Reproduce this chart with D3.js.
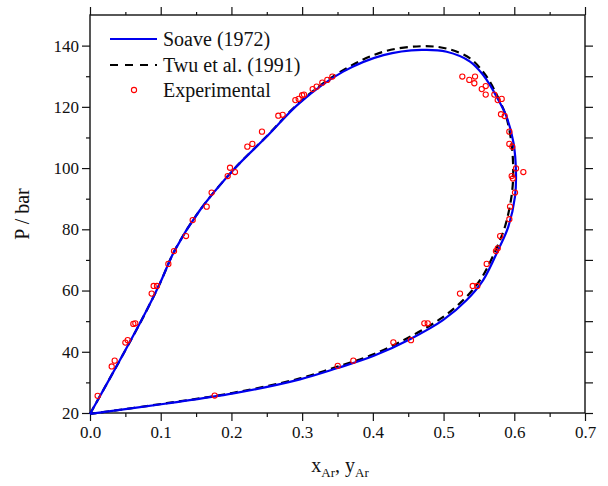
<!DOCTYPE html>
<html>
<head>
<meta charset="utf-8">
<script src="https://cdn.jsdelivr.net/npm/d3@7"></script>
<style>
  body { margin: 0; background: #fff; overflow: hidden; }
  svg { display: block; }
</style>
</head>
<body>
<div id="chart"></div>
<script>
const serif = '"Liberation Serif", "Times New Roman", Times, "DejaVu Serif", serif';

// Soave (1972) envelope: left branch up, over the top, down the right side, back along the bottom
const soaveX = [0, 0.0424, 0.0754, 0.099, 0.12, 0.1556, 0.2027, 0.2499, 0.297, 0.358, 0.415, 0.469, 0.5044, 0.5374, 0.556, 0.5657, 0.575, 0.589, 0.599, 0.6024, 0.601, 0.5916, 0.5775, 0.556, 0.5327, 0.4996, 0.4525, 0.4006, 0.349, 0.297, 0.2027, 0.1084, 0];
const soaveP = [19.7, 37.3, 51.4, 62.4, 73.2, 86.3, 99.4, 110.3, 121.4, 131.5, 136.9, 138.6, 138.0, 134.8, 130.4, 127.1, 123.3, 116.8, 108.1, 98.3, 90.7, 80.9, 73.4, 63.4, 56.9, 50.4, 44.1, 38.6, 34.6, 31.0, 26.4, 23.1, 19.7];

// Twu et al. (1991)
const twuX = [0, 0.0424, 0.0754, 0.099, 0.12, 0.1556, 0.2027, 0.2499, 0.297, 0.358, 0.415, 0.469, 0.505, 0.537, 0.556, 0.566, 0.575, 0.588, 0.596, 0.5985, 0.596, 0.587, 0.5745, 0.553, 0.530, 0.497, 0.450, 0.399, 0.348, 0.297, 0.2027, 0.1084, 0];
const twuP = [19.7, 37.3, 51.4, 62.4, 73.2, 86.3, 99.4, 110.4, 121.6, 132.0, 138.0, 139.8, 139.0, 135.9, 131.4, 128.0, 124.0, 117.2, 108.2, 98.3, 90.7, 81.0, 73.6, 63.9, 57.4, 51.0, 44.6, 39.0, 35.0, 31.3, 26.6, 23.2, 19.7];

// Experimental points
const expX = [0.0108, 0.0307, 0.0349, 0.050, 0.0533, 0.0613, 0.0641, 0.0872, 0.090, 0.0947, 0.1108, 0.1188, 0.1763,
  0.1358, 0.1452, 0.165, 0.172, 0.1947, 0.198, 0.205, 0.2225, 0.2296, 0.2432, 0.2663, 0.2725, 0.2904, 0.2951,
  0.3026, 0.300, 0.3149, 0.3205, 0.3285, 0.3356, 0.3427,
  0.5265, 0.5364, 0.5435, 0.5445, 0.554, 0.5596, 0.5596, 0.5718, 0.5766, 0.5822, 0.5812, 0.5864, 0.593, 0.593,
  0.5972, 0.6024, 0.6128, 0.5963, 0.598, 0.601, 0.594, 0.593, 0.580, 0.5766,
  0.3503, 0.3724, 0.429, 0.4539, 0.4728, 0.4776, 0.5232, 0.5412, 0.5477, 0.561, 0.5741];
const expP = [25.6, 35.2, 37.1, 43.0, 43.8, 49.1, 49.3, 59.0, 61.5, 61.5, 68.7, 72.9, 25.7,
  77.8, 83.0, 87.4, 92.0, 97.4, 100.1, 98.7, 107.0, 107.9, 111.9, 117.1, 117.4, 122.2, 122.6,
  124.0, 123.8, 125.8, 126.6, 127.9, 128.8, 129.9,
  129.9, 128.8, 127.7, 129.9, 125.8, 126.8, 124.0, 124.0, 122.2, 122.6, 117.6, 117.0, 111.9, 107.9,
  107.0, 99.9, 98.7, 97.4, 96.6, 92.0, 87.4, 83.3, 77.8, 73.8,
  35.4, 37.1, 43.1, 43.8, 49.3, 49.3, 59.0, 61.5, 61.5, 68.7, 72.9];

const xTicks = [0, 0.1, 0.2, 0.3, 0.4, 0.5, 0.6, 0.7];
const yTicks = [20, 40, 60, 80, 100, 120, 140];
const legendLabels = ['Soave (1972)', 'Twu et al. (1991)', 'Experimental'];

const width = 608;
const height = 486;
const margin = { top: 15, right: 23, bottom: 73, left: 90 };
const innerWidth = width - margin.left - margin.right;
const innerHeight = height - margin.top - margin.bottom;

const svg = d3.select('#chart').append('svg')
  .attr('width', width).attr('height', height)
  .style('font-family', serif);
const chart = svg.append('g').attr('transform', `translate(${margin.left},${margin.top})`);

const x = d3.scaleLinear().domain([0, 0.7]).range([0, innerWidth]);
const y = d3.scaleLinear().domain([20, 150]).range([innerHeight, 0]);

const xMinor = d3.range(0.05, 0.7, 0.1);
const yMinor = d3.range(30, 150, 20);

function styleAxis(g) {
  g.attr('font-family', null);
  g.select('.domain').remove();
  g.selectAll('line').attr('stroke', '#111').attr('stroke-width', 1.2);
  g.selectAll('text')
    .style('font-family', serif)
    .style('font-size', '17px')
    .attr('fill', '#111');
}

function bareTicks(g) {
  g.select('.domain').remove();
  g.selectAll('text').remove();
  g.selectAll('line').attr('stroke', '#111').attr('stroke-width', 1.2);
}

// bottom
chart.append('g').attr('transform', `translate(0,${innerHeight})`)
  .call(d3.axisBottom(x).tickValues(xTicks).tickFormat(d3.format('.1f')).tickSize(8).tickPadding(5))
  .call(styleAxis);
chart.append('g').attr('transform', `translate(0,${innerHeight})`)
  .call(d3.axisBottom(x).tickValues(xMinor).tickSize(4))
  .call(bareTicks);
// top
chart.append('g')
  .call(d3.axisTop(x).tickValues(xTicks).tickSize(8))
  .call(bareTicks);
chart.append('g')
  .call(d3.axisTop(x).tickValues(xMinor).tickSize(3))
  .call(bareTicks);
// left
chart.append('g')
  .call(d3.axisLeft(y).tickValues(yTicks).tickSize(8).tickPadding(3))
  .call(styleAxis);
chart.append('g')
  .call(d3.axisLeft(y).tickValues(yMinor).tickSize(4))
  .call(bareTicks);
// right
chart.append('g').attr('transform', `translate(${innerWidth},0)`)
  .call(d3.axisRight(y).tickValues(yTicks.concat(yMinor)).tickSize(8))
  .call(bareTicks);

chart.append('rect')
  .attr('width', innerWidth).attr('height', innerHeight)
  .attr('fill', 'none').attr('stroke', '#111').attr('stroke-width', 1.4);

const line = d3.line().x((d) => x(d[0])).y((d) => y(d[1])).curve(d3.curveCatmullRom.alpha(0.5));

const twu = twuX.map((v, i) => [v, twuP[i]]);
const soave = soaveX.map((v, i) => [v, soaveP[i]]);

chart.append('path').datum(twu)
  .attr('d', line).attr('fill', 'none')
  .attr('stroke', '#000').attr('stroke-width', 2.2).attr('stroke-dasharray', '8,5');

chart.append('path').datum(soave)
  .attr('d', line).attr('fill', 'none')
  .attr('stroke', '#0000ee').attr('stroke-width', 2.2);

chart.append('g').selectAll('circle')
  .data(expX.map((v, i) => [v, expP[i]]))
  .join('circle')
  .attr('cx', (d) => x(d[0])).attr('cy', (d) => y(d[1]))
  .attr('r', 2.6).attr('fill', 'none').attr('stroke', '#ff0000').attr('stroke-width', 1.1);

// legend
const legend = svg.append('g');
legend.append('line').attr('x1', 110).attr('x2', 157).attr('y1', 39).attr('y2', 39)
  .attr('stroke', '#0000ee').attr('stroke-width', 2.2);
legend.append('line').attr('x1', 110).attr('x2', 157).attr('y1', 65).attr('y2', 65)
  .attr('stroke', '#000').attr('stroke-width', 2.2).attr('stroke-dasharray', '8,7');
legend.append('circle').attr('cx', 134).attr('cy', 90).attr('r', 2.6)
  .attr('fill', 'none').attr('stroke', '#ff0000').attr('stroke-width', 1.1);
legend.selectAll('text.lab').data(legendLabels).join('text')
  .attr('class', 'lab')
  .attr('x', 163).attr('y', (d, i) => 46 + i * 25.5)
  .attr('fill', '#111')
  .style('font-family', serif)
  .style('font-size', '20px')
  .text((d) => d);

// axis titles
const xTitle = svg.append('text').attr('x', 340).attr('y', 472).attr('text-anchor', 'middle')
  .attr('fill', '#111').style('font-family', serif).style('font-size', '20px');
xTitle.append('tspan').text('x');
xTitle.append('tspan').attr('dy', 5).style('font-size', '13px').text('Ar');
xTitle.append('tspan').attr('dy', -5).text(', y');
xTitle.append('tspan').attr('dy', 5).style('font-size', '13px').text('Ar');

svg.append('text')
  .attr('transform', 'translate(29,214) rotate(-90)')
  .attr('text-anchor', 'middle')
  .attr('fill', '#111')
  .style('font-family', serif)
  .style('font-size', '20px')
  .text('P / bar');
</script>
</body>
</html>
